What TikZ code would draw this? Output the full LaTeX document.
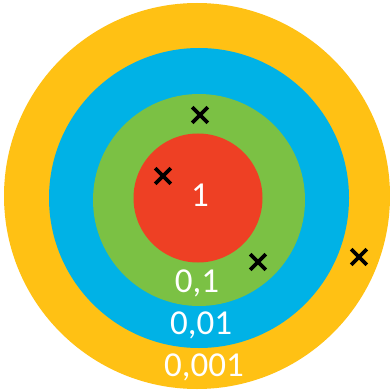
\documentclass[tikz,border=0pt]{standalone}
\usepackage{fontspec}
\setmainfont{Carlito}
\usepackage{xcolor}
\usetikzlibrary{shapes.misc}
\definecolor{RingOrange}{HTML}{FFC114}
\definecolor{RingBlue}{HTML}{00B2E6}
\definecolor{RingGreen}{HTML}{7BC144}
\definecolor{RingRed}{HTML}{EE4024}
\begin{document}
\begin{tikzpicture}[x=1pt,y=-1pt,
  ring/.style={circle,inner sep=0pt,minimum size=#1},
  score/.style={text=white,font=\fontsize{35}{35}\selectfont,inner sep=0pt},
  hit/.style={cross out,draw=black,line width=3.6pt,minimum size=12pt,inner sep=0pt}]
\fill[white] (0,0) rectangle (390,390);
\useasboundingbox (0,0) rectangle (390,390);
\node[ring=386pt,fill=RingOrange] (r4) at (197,196) {};
\node[ring=300pt,fill=RingBlue] (r3) at (199,198) {};
\node[ring=212pt,fill=RingGreen] (r2) at (199,200) {};
\node[ring=129pt,fill=RingRed] (r1) at (198,198) {};
\node[score] (l1) at (200,195) {1};
\node[score] (l2) at (197,283) {0,1};
\node[score] (l3) at (201,325) {0,01};
\node[score] (l4) at (204,367) {0,001};
\foreach \n/\p in {h1/{(200,115)},h2/{(163,176)},h3/{(258,262)},h4/{(359,257)}}
  \node[hit] (\n) at \p {};
\end{tikzpicture}
\end{document}
